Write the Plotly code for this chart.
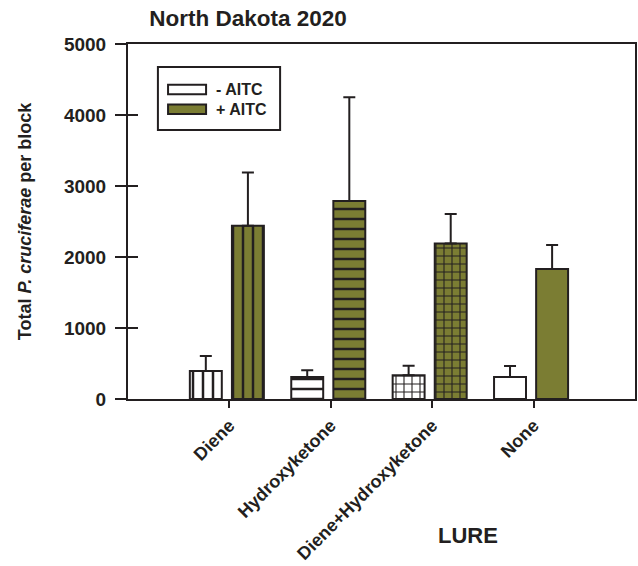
import plotly.graph_objects as go

# Lure treatments and mean trap counts (with upper error) per block
lures = ["Diene", "Hydroxyketone", "Diene+Hydroxyketone", "None"]
minus_aitc = [395, 310, 335, 310]
minus_aitc_err = [210, 95, 135, 155]
plus_aitc = [2440, 2790, 2190, 1830]
plus_aitc_err = [750, 1460, 415, 340]
patterns = ["|", "-", "+", ""]
pattern_sizes = [10, 10, 8, 10]
y_ticks = [0, 1000, 2000, 3000, 4000, 5000]

INK = "#231f20"
OLIVE = "#7b7d33"
FONT = "Liberation Sans, Arial, sans-serif"

x_pos = list(range(len(lures)))


def bar_trace(name, vals, errs, fill, offset):
    return go.Bar(
        name=name,
        x=x_pos,
        y=vals,
        width=0.315,
        offset=offset,
        marker=dict(
            color=fill,
            line=dict(color=INK, width=2),
            pattern=dict(shape=patterns, size=pattern_sizes, solidity=0.25,
                         fgcolor=INK, bgcolor=fill, fillmode="replace"),
        ),
        error_y=dict(type="data", array=errs, arrayminus=[0] * len(errs),
                     symmetric=False, color=INK, thickness=2, width=6),
        showlegend=False,
    )


fig = go.Figure()
fig.add_trace(bar_trace("- AITC", minus_aitc, minus_aitc_err, "white", -0.39))
fig.add_trace(bar_trace("+ AITC", plus_aitc, plus_aitc_err, OLIVE, 0.025))

# invisible trace carrying the inward-pointing y ticks
fig.add_trace(go.Scatter(x=[x_pos[0]], y=[0], yaxis="y2", mode="markers",
                         marker=dict(opacity=0), showlegend=False,
                         hoverinfo="skip"))

fig.update_layout(
    width=638, height=566,
    margin=dict(l=128, r=3, t=44, b=167),
    paper_bgcolor="white", plot_bgcolor="white",
    barmode="overlay",
    font=dict(family=FONT, color=INK),
    xaxis=dict(
        range=[-1, 4], tickvals=x_pos, ticktext=lures, tickangle=-45,
        ticks="outside", ticklen=7, tickwidth=2, tickcolor=INK,
        showline=True, linewidth=2, linecolor=INK, mirror=True,
        showgrid=False, zeroline=False, automargin=False,
        tickfont=dict(family=FONT, size=18, color=INK, weight="bold"),
    ),
    yaxis=dict(
        range=[0, 5000], tickvals=y_ticks,
        ticks="outside", ticklen=11, tickwidth=2, tickcolor=INK,
        showline=True, linewidth=2, linecolor=INK, mirror=True,
        showgrid=False, zeroline=False, ticklabelstandoff=5, automargin=False,
        tickfont=dict(family=FONT, size=19, color=INK, weight="bold"),
        title=dict(text="Total <i>P. cruciferae</i> per block",
                   font=dict(family=FONT, size=18, color=INK, weight="bold"),
                   standoff=28),
    ),
    yaxis2=dict(
        range=[0, 5000], tickvals=y_ticks, overlaying="y", side="left",
        anchor="x", ticks="inside", ticklen=10, tickwidth=2, tickcolor=INK,
        showticklabels=False, showline=False, showgrid=False, zeroline=False,
    ),
    title=dict(text="<b>North Dakota 2020</b>", x=0.042, xref="paper",
               xanchor="left", y=0.968, yanchor="middle",
               font=dict(family=FONT, size=22.5, color=INK)),
)

# Axis title for the lure categories
fig.add_annotation(text="<b>LURE</b>", xref="paper", yref="paper",
                   x=0.671, y=-0.385, showarrow=False, xanchor="center",
                   yanchor="middle", font=dict(family=FONT, size=22, color=INK))

# Legend box with wide swatches
fig.add_shape(type="rect", xref="paper", yref="paper",
              x0=0.059, x1=0.300, y0=0.758, y1=0.935,
              line=dict(color=INK, width=2), fillcolor="white")
legend_items = [("- AITC", "white", 0.872), ("+ AITC", OLIVE, 0.816)]
for label, fill, yc in legend_items:
    fig.add_shape(type="rect", xref="paper", yref="paper",
                  x0=0.079, x1=0.154, y0=yc - 0.0135, y1=yc + 0.0135,
                  line=dict(color=INK, width=2), fillcolor=fill)
    fig.add_annotation(text=f"<b>{label}</b>", xref="paper", yref="paper",
                       x=0.170, y=yc, xanchor="left", yanchor="middle",
                       showarrow=False,
                       font=dict(family=FONT, size=16, color=INK))

fig.write_html("out.html")
